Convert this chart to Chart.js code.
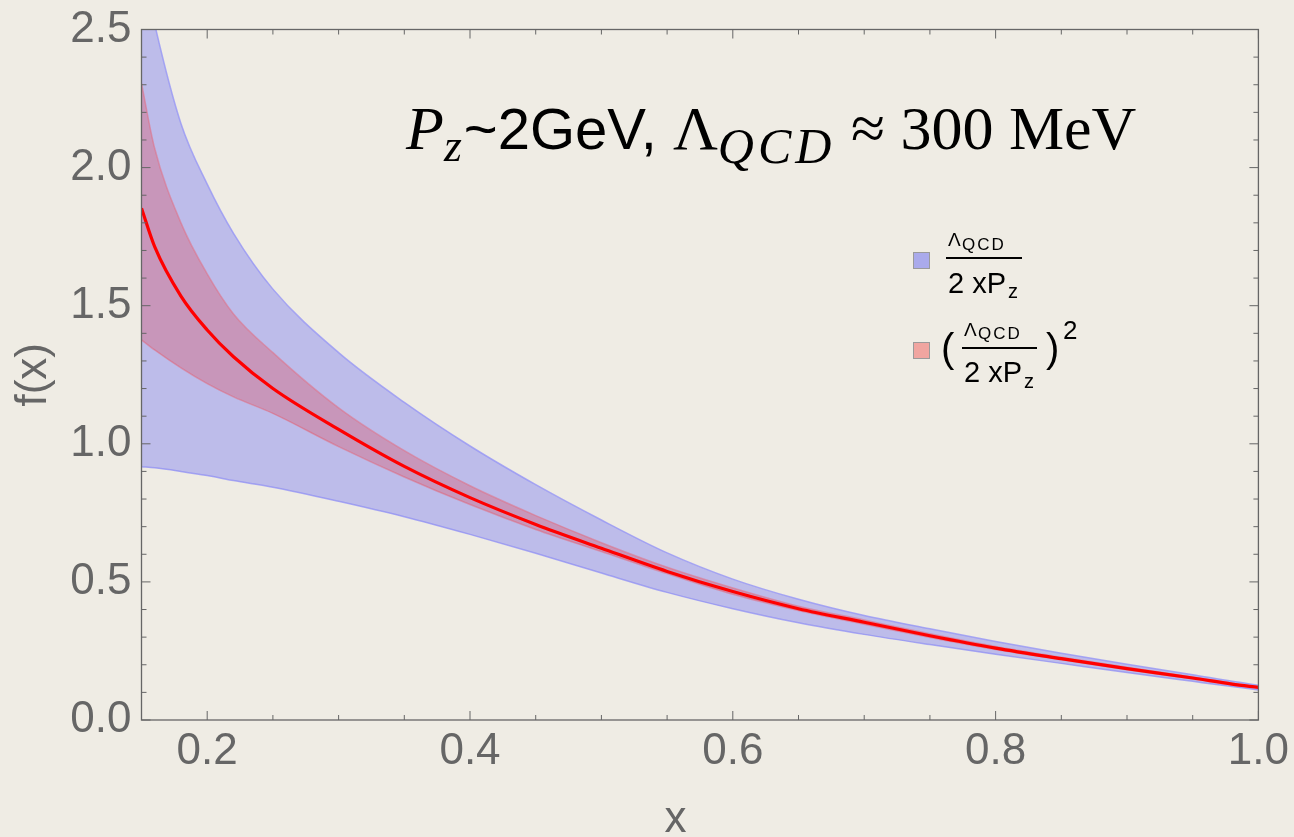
<!DOCTYPE html>
<html>
<head>
<meta charset="utf-8">
<script src="https://cdn.jsdelivr.net/npm/chart.js@4"></script>
<style>
  body { margin: 0; background: #efece4; }
  #wrap { position: relative; width: 1294px; height: 837px; overflow: hidden; }
  #myChart { position: absolute; left: 0; top: 0; }
  .t { position: absolute; white-space: nowrap; line-height: 1; font-family: "Liberation Sans", Arial, sans-serif; color: #000; }
  .serif { font-family: "Liberation Serif", "DejaVu Serif", serif; }
  .bar { position: absolute; height: 2px; background: #000; }
  .sw { position: absolute; width: 17px; height: 17px; box-sizing: border-box; border: 1.5px solid #9a9a9a; }
</style>
</head>
<body>
<div id="wrap">
  <canvas id="myChart" width="1294" height="837"></canvas>

  <!-- title -->
  <div class="t" id="title" style="left:406px; top:97px; font-size:58px;">
    <i class="serif" style="font-size:62px">P</i><i class="serif" style="font-size:46px; vertical-align:-12px; letter-spacing:2px">z</i>~2GeV, <span class="serif" style="font-size:62px">Λ</span><i class="serif" style="font-size:50px; vertical-align:-14px; letter-spacing:4px">QCD</i><span class="serif" style="font-size:62px"> ≈ 300 MeV</span>
  </div>

  <!-- legend 1 -->
  <div class="sw" style="left:913px; top:252px; background:#aaaaeb;"></div>
  <div class="t" style="left:948px; top:230px; font-size:19px;">Λ</div>
  <div class="t" style="left:962px; top:236px; font-size:17px; letter-spacing:2px">QCD</div>
  <div class="bar" style="left:946px; top:257px; width:76px;"></div>
  <div class="t" style="left:948px; top:269px; font-size:29px;">2 xP</div>
  <div class="t" style="left:1008px; top:281px; font-size:20px;">z</div>

  <!-- legend 2 -->
  <div class="sw" style="left:913px; top:342px; background:#f0a5a0;"></div>
  <div class="t" style="left:941px; top:328px; font-size:40px;">(</div>
  <div class="t" style="left:964px; top:320px; font-size:19px;">Λ</div>
  <div class="t" style="left:978px; top:325px; font-size:17px; letter-spacing:2px">QCD</div>
  <div class="bar" style="left:962px; top:347px; width:75px;"></div>
  <div class="t" style="left:964px; top:358px; font-size:29px;">2 xP</div>
  <div class="t" style="left:1024px; top:371px; font-size:20px;">z</div>
  <div class="t" style="left:1046px; top:328px; font-size:40px;">)</div>
  <div class="t" style="left:1063px; top:317px; font-size:26px;">2</div>
</div>

<script>
    // sample points along x
    const xs = [0.15, 0.16, 0.18, 0.20, 0.22, 0.25, 0.30, 0.35, 0.40, 0.45, 0.50, 0.55,
                0.60, 0.65, 0.70, 0.75, 0.80, 0.85, 0.90, 0.95, 0.98, 1.00];

    // central curve
    const center = [1.853, 1.714, 1.535, 1.412, 1.315, 1.200, 1.052, 0.918, 0.805, 0.708, 0.622, 0.538,
                    0.465, 0.403, 0.354, 0.305, 0.260, 0.222, 0.186, 0.152, 0.130, 0.118];

    // Lambda/(2 x Pz) band
    const blueUpper = [2.75, 2.52, 2.16, 1.94, 1.762, 1.56, 1.33, 1.15, 0.992, 0.852, 0.724, 0.605,
                       0.51, 0.437, 0.378, 0.330, 0.284, 0.242, 0.202, 0.164, 0.140, 0.126];
    const blueLower = [0.917, 0.913, 0.900, 0.885, 0.867, 0.843, 0.792, 0.736, 0.672, 0.604, 0.532, 0.462,
                       0.403, 0.352, 0.310, 0.273, 0.238, 0.205, 0.172, 0.140, 0.121, 0.109];

    // (Lambda/(2 x Pz))^2 band
    const redUpper = [2.305, 2.07, 1.80, 1.615, 1.47, 1.33, 1.13, 0.975, 0.848, 0.740, 0.642, 0.553,
                      0.478, 0.412, 0.362, 0.312, 0.266, 0.227, 0.191, 0.156, 0.133, 0.120];
    const redLower = [1.376, 1.34, 1.275, 1.218, 1.17, 1.11, 0.99, 0.88, 0.78, 0.69, 0.61, 0.53,
                      0.455, 0.396, 0.347, 0.299, 0.255, 0.218, 0.182, 0.148, 0.127, 0.116];

    const xTicks = [0.2, 0.4, 0.6, 0.8, 1.0];
    const xMinor = [0.25, 0.3, 0.35, 0.45, 0.5, 0.55, 0.65, 0.7, 0.75, 0.85, 0.9, 0.95];
    const yTicks = [0.0, 0.5, 1.0, 1.5, 2.0, 2.5];
    const yMinor = [0.1, 0.2, 0.3, 0.4, 0.6, 0.7, 0.8, 0.9, 1.1, 1.2, 1.3, 1.4,
                    1.6, 1.7, 1.8, 1.9, 2.1, 2.2, 2.3, 2.4];

    const pts = arr => xs.map((x, i) => ({ x: x, y: arr[i] }));

    const gray = '#666666';
    const fam = 'Liberation Sans, Arial, sans-serif';

    // frame with inward ticks on all four sides
    const framePlugin = {
        id: 'frame',
        afterDatasetsDraw(chart) {
            const ctx = chart.ctx;
            const a = chart.chartArea;
            const sx = chart.scales.x, sy = chart.scales.y;
            ctx.save();
            ctx.strokeStyle = gray;
            ctx.lineWidth = 1.3;
            ctx.strokeRect(a.left, a.top, a.right - a.left, a.bottom - a.top);
            ctx.lineWidth = 1;
            ctx.beginPath();
            const xt = (v, len) => {
                const p = sx.getPixelForValue(v);
                ctx.moveTo(p, a.bottom); ctx.lineTo(p, a.bottom - len);
                ctx.moveTo(p, a.top); ctx.lineTo(p, a.top + len);
            };
            const yt = (v, len) => {
                const p = sy.getPixelForValue(v);
                ctx.moveTo(a.left, p); ctx.lineTo(a.left + len, p);
                ctx.moveTo(a.right, p); ctx.lineTo(a.right - len, p);
            };
            xTicks.forEach(v => xt(v, 9));
            xMinor.forEach(v => xt(v, 5));
            yTicks.forEach(v => yt(v, 9));
            yMinor.forEach(v => yt(v, 5));
            ctx.stroke();
            ctx.restore();
        }
    };

    const smooth = 'monotone';

    new Chart('myChart', {
        type: 'line',
        data: {
            datasets: [
                {
                    label: 'center', data: pts(center), borderColor: '#ff0000', borderWidth: 3.2,
                    pointRadius: 0, fill: false, order: 0, clip: 0, cubicInterpolationMode: smooth
                },
                {
                    label: 'redUpper', data: pts(redUpper), borderColor: 'rgba(225,110,130,0.55)', borderWidth: 1.5,
                    backgroundColor: 'rgba(220,80,97,0.35)', pointRadius: 0, fill: '+1', order: 1, clip: 0,
                    cubicInterpolationMode: smooth
                },
                {
                    label: 'redLower', data: pts(redLower), borderColor: 'rgba(225,110,130,0.55)', borderWidth: 1.5,
                    pointRadius: 0, fill: false, order: 1, clip: 0, cubicInterpolationMode: smooth
                },
                {
                    label: 'blueUpper', data: pts(blueUpper), borderColor: 'rgba(150,150,245,0.8)', borderWidth: 1.5,
                    backgroundColor: 'rgba(140,140,240,0.5)', pointRadius: 0, fill: '+1', order: 2, clip: 0,
                    cubicInterpolationMode: smooth
                },
                {
                    label: 'blueLower', data: pts(blueLower), borderColor: 'rgba(150,150,245,0.8)', borderWidth: 1.5,
                    pointRadius: 0, fill: false, order: 2, clip: 0, cubicInterpolationMode: smooth
                }
            ]
        },
        options: {
            responsive: false,
            animation: false,
            devicePixelRatio: 1,
            layout: { padding: { top: 29.5, right: 31, left: 0, bottom: 0 } },
            plugins: { legend: { display: false }, tooltip: { enabled: false } },
            scales: {
                x: {
                    type: 'linear', min: 0.15, max: 1.0,
                    grid: { display: false, drawTicks: false, tickLength: 0 },
                    border: { display: false },
                    afterBuildTicks: s => { s.ticks = xTicks.map(v => ({ value: v })); },
                    afterFit: s => { s.height = 117; },
                    ticks: { color: gray, font: { family: fam, size: 44 }, padding: 5, maxRotation: 0,
                             callback: v => v.toFixed(1) },
                    title: { display: true, text: 'x    ', color: gray,
                             font: { family: fam, size: 44, lineHeight: 0.8 }, padding: 0 }
                },
                y: {
                    min: 0, max: 2.5,
                    grid: { display: false, drawTicks: false, tickLength: 0 },
                    border: { display: false },
                    afterBuildTicks: s => { s.ticks = yTicks.map(v => ({ value: v })); },
                    afterFit: s => { s.width = 141.5; },
                    ticks: { color: gray, font: { family: fam, size: 44, lineHeight: 0.8 }, padding: 10,
                             callback: v => v.toFixed(1) },
                    title: { display: true, text: 'f(x)', color: gray,
                             font: { family: fam, size: 44, lineHeight: 0.8 }, padding: { top: 16, bottom: 0 } }
                }
            }
        },
        plugins: [framePlugin]
    });
</script>
</body>
</html>
